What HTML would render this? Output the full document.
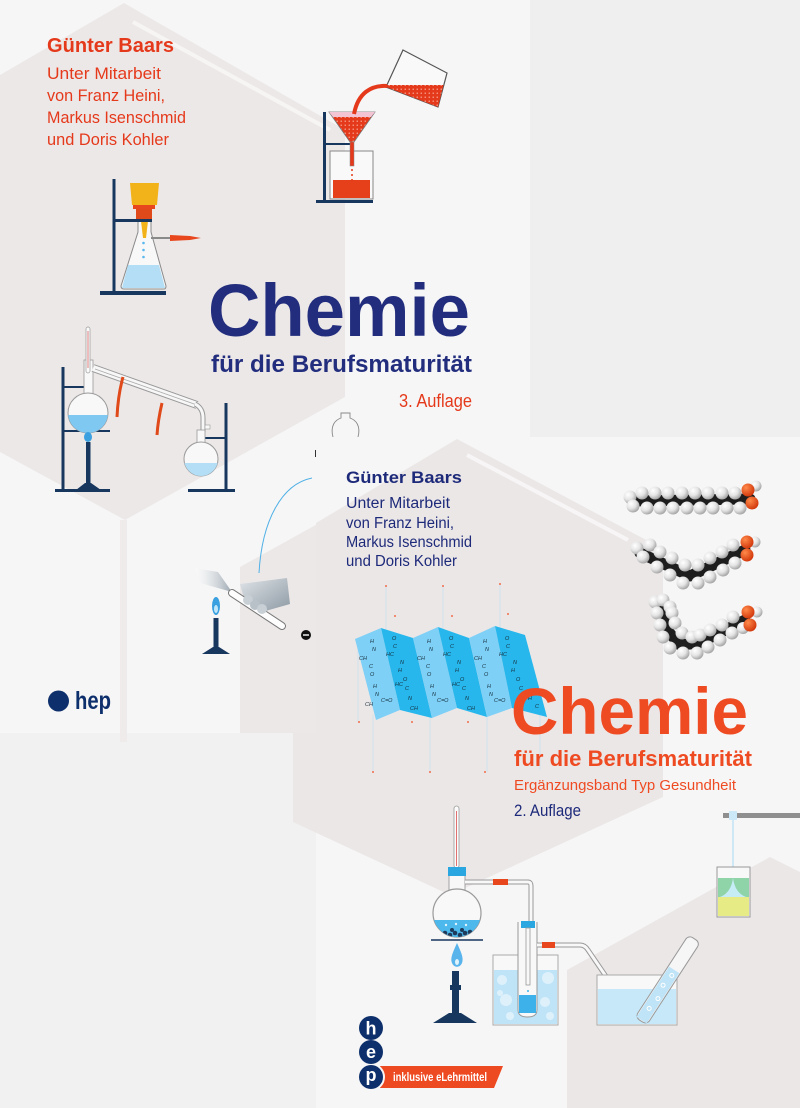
<!DOCTYPE html>
<html><head><meta charset="utf-8">
<style>
html,body{margin:0;padding:0;width:800px;height:1108px;overflow:hidden;background:#f1f1f1;}
svg{display:block;}
text{font-family:"Liberation Sans",sans-serif;}
</style></head>
<body>
<svg width="800" height="1108" viewBox="0 0 800 1108" xmlns="http://www.w3.org/2000/svg">
<defs>
<radialGradient id="sph" cx="0.35" cy="0.32" r="0.7">
<stop offset="0" stop-color="#ffffff"/><stop offset="0.55" stop-color="#e4e4e4"/><stop offset="1" stop-color="#a5a5a5"/>
</radialGradient>
<radialGradient id="oxy" cx="0.35" cy="0.32" r="0.7">
<stop offset="0" stop-color="#ff8a4a"/><stop offset="1" stop-color="#d2380c"/>
</radialGradient>
<pattern id="dots" width="4" height="4" patternUnits="userSpaceOnUse">
<rect width="4" height="4" fill="#e5391b"/><circle cx="1.2" cy="1.2" r="0.7" fill="#f8b4a2"/>
</pattern>
<linearGradient id="hand" x1="0" y1="0" x2="1" y2="1">
<stop offset="0" stop-color="#dfe4e8"/><stop offset="1" stop-color="#8d99a3"/>
</linearGradient>
<linearGradient id="paper" x1="0" y1="0" x2="1" y2="0">
<stop offset="0" stop-color="#ffffff" stop-opacity="0.3"/><stop offset="1" stop-color="#9aa6b0"/>
</linearGradient>
<clipPath id="fl1"><circle cx="88" cy="413" r="20"/></clipPath>
<clipPath id="fl2"><circle cx="201" cy="459" r="17"/></clipPath>
<clipPath id="fl3"><circle cx="457" cy="913" r="24"/></clipPath>
</defs>

<!-- background -->
<rect x="0" y="0" width="800" height="1108" fill="#f1f1f1"/>
<rect x="530" y="0" width="270" height="437" fill="#efefef"/>

<!-- cover 1 -->
<rect x="0" y="0" width="530" height="733" fill="#f6f6f6"/>
<polygon points="0,75 124,3 345,130 345,397 125,520 0,452" fill="#ede8e8"/>
<line x1="133" y1="22" x2="330" y2="130" stroke="#f7f4f4" stroke-width="4"/>
<polygon points="240,567 330,517 330,733 240,733" fill="#ede8e8"/>
<rect x="120" y="520" width="7" height="222" fill="#efebeb"/>

<!-- cover1 text -->
<text x="47" y="52" font-size="20" font-weight="bold" fill="#e5391b" textLength="127" lengthAdjust="spacingAndGlyphs">Günter Baars</text>
<text x="47" y="79" font-size="17" fill="#e5391b" textLength="114" lengthAdjust="spacingAndGlyphs">Unter Mitarbeit</text>
<text x="47" y="101" font-size="17" fill="#e5391b" textLength="118" lengthAdjust="spacingAndGlyphs">von Franz Heini,</text>
<text x="47" y="123" font-size="17" fill="#e5391b" textLength="139" lengthAdjust="spacingAndGlyphs">Markus Isenschmid</text>
<text x="47" y="145" font-size="17" fill="#e5391b" textLength="122" lengthAdjust="spacingAndGlyphs">und Doris Kohler</text>

<text x="208" y="336" font-size="74" font-weight="bold" fill="#222e7d" textLength="262" lengthAdjust="spacingAndGlyphs">Chemie</text>
<text x="211" y="372" font-size="24" font-weight="bold" fill="#222e7d" textLength="261" lengthAdjust="spacingAndGlyphs">für die Berufsmaturität</text>
<text x="399" y="407" font-size="18" fill="#e5391b" textLength="73" lengthAdjust="spacingAndGlyphs">3. Auflage</text>

<!-- Büchner filtration -->
<g>
<rect x="112.5" y="179" width="3" height="114" fill="#17375e"/>
<rect x="100" y="291" width="66" height="4" fill="#17375e"/>
<path d="M138,212 L138,232 L121,286 Q121,289 124,289 L164,289 Q166,289 166,286 L151,232 L151,212" fill="#f8f8f8" stroke="#8a8a8a" stroke-width="1"/>
<polygon points="128,265 159,265 165,288 122,288" fill="#b3def5"/>
<polygon points="130,183 159,183 157,205 132,205" fill="#f2b21a"/>
<rect x="133" y="205" width="22" height="4" fill="#e8461d"/>
<rect x="136" y="209" width="16" height="12" fill="#e04a1a"/>
<polygon points="141,221 148,221 146,238 143,238" fill="#f2b21a"/>
<rect x="114" y="219" width="38" height="3" fill="#17375e"/>
<line x1="151" y1="238" x2="172" y2="238" stroke="#8a8a8a" stroke-width="2"/>
<polygon points="170,235 190,236 201,238 190,240 170,241" fill="#e8461d"/>
<circle cx="143.5" cy="243" r="1.3" fill="#5ab8ee"/>
<circle cx="143.5" cy="250" r="1.3" fill="#5ab8ee"/>
<circle cx="143.5" cy="257" r="1.3" fill="#5ab8ee"/>
</g>

<!-- pouring -->
<g>
<rect x="323" y="112" width="3" height="90" fill="#17375e"/>
<rect x="316" y="200" width="57" height="3" fill="#17375e"/>
<rect x="330" y="151" width="43" height="48" fill="#f9f9f9" stroke="#888" stroke-width="1"/>
<rect x="333" y="180" width="37" height="18" fill="#e5401a"/>
<rect x="324" y="143" width="28" height="2" fill="#17375e"/>
<polygon points="329,112 375,112 354,142 350,142" fill="url(#dots)" stroke="#777" stroke-width="0.8"/>
<polygon points="329,112 375,112 371,117 333,117" fill="#f3c4d4"/>
<rect x="350" y="142" width="4" height="24" fill="#e5391b" stroke="#888" stroke-width="0.5"/>
<circle cx="352" cy="170" r="1" fill="#e5391b"/>
<circle cx="352" cy="175" r="1" fill="#e5391b"/>
<circle cx="352" cy="180" r="1" fill="#e5391b"/>
<polygon points="403,50 447,73 438,107 386,87" fill="#f9f9f9" stroke="#555" stroke-width="1.2"/>
<polygon points="387,85 443.5,85 438,107 386,87" fill="url(#dots)"/>
<path d="M387,86 C371,85 358,93 354,114" stroke="#e5391b" stroke-width="4" fill="none"/>
</g>

<!-- distillation -->
<g>
<rect x="61.5" y="367" width="3" height="123" fill="#17375e"/>
<rect x="55" y="489" width="55" height="3" fill="#17375e"/>
<rect x="63" y="430" width="47" height="2" fill="#17375e"/>
<rect x="63" y="386" width="25" height="2" fill="#17375e"/>
<rect x="84" y="360" width="9" height="36" fill="#f8f8f8" stroke="#999" stroke-width="0.8"/>
<circle cx="88" cy="413" r="20" fill="#f8f8f8" stroke="#999" stroke-width="1"/>
<rect x="66" y="415" width="45" height="20" fill="#7ec8f2" clip-path="url(#fl1)"/>
<rect x="86" y="327" width="4" height="46" rx="2" fill="#fafafa" stroke="#999" stroke-width="0.7"/>
<line x1="88" y1="331" x2="88" y2="368" stroke="#e08080" stroke-width="1"/>
<ellipse cx="88" cy="437" rx="4" ry="5" fill="#3aa0e0"/>
<rect x="86" y="442" width="4.5" height="43" fill="#17375e"/>
<polygon points="76,490 101,490 91,483 85,483" fill="#17375e"/>
<path d="M93,368 L197,405" stroke="#999" stroke-width="8" fill="none"/>
<path d="M93,368 L197,405" stroke="#f7f7f7" stroke-width="6" fill="none"/>
<path d="M95,369 L197,405" stroke="#aaa" stroke-width="0.8" fill="none"/>
<path d="M195,404 Q203,408 203,418 L203,432" stroke="#999" stroke-width="5" fill="none"/>
<path d="M195,404 Q203,408 203,418 L203,432" stroke="#f7f7f7" stroke-width="3" fill="none"/>
<path d="M123,377 Q118,395 117,417" stroke="#e04a1a" stroke-width="3" fill="none"/>
<path d="M162,403 Q158,420 157,435" stroke="#e04a1a" stroke-width="3" fill="none"/>
<rect x="224.5" y="403" width="3" height="87" fill="#17375e"/>
<rect x="188" y="489" width="47" height="3" fill="#17375e"/>
<rect x="201" y="437" width="25" height="2" fill="#17375e"/>
<rect x="197" y="430" width="8" height="13" fill="#f8f8f8" stroke="#999" stroke-width="0.8"/>
<rect x="205" y="425" width="5" height="4" fill="#f8f8f8" stroke="#999" stroke-width="0.6"/>
<circle cx="201" cy="459" r="17" fill="#f8f8f8" stroke="#999" stroke-width="1"/>
<rect x="183" y="463" width="36" height="15" fill="#b3def5" clip-path="url(#fl2)"/>
</g>

<!-- burner + test tube -->
<g>
<path d="M312,478 C282,484 262,520 259,573" stroke="#4fb0e6" stroke-width="1" fill="none"/>
<polygon points="195,568 218,572 232,592 200,583" fill="url(#paper)"/>
<ellipse cx="216" cy="606" rx="4" ry="9" fill="#3aa0e0"/>
<ellipse cx="216" cy="609" rx="2" ry="4" fill="#bfe6fb"/>
<rect x="213.5" y="618" width="5" height="32" fill="#17375e"/>
<polygon points="202,654 230,654 219,647 213,647" fill="#17375e"/>
<polygon points="240,584 287,578 290,604 262,612 246,606" fill="url(#hand)"/>
<line x1="232" y1="593" x2="282" y2="626" stroke="#777" stroke-width="8" stroke-linecap="round"/>
<line x1="232" y1="593" x2="282" y2="626" stroke="#fdfdfd" stroke-width="6" stroke-linecap="round"/>
<circle cx="248" cy="600" r="5" fill="#c8d0d6"/>
<circle cx="255" cy="605" r="5" fill="#b8c1c8"/>
<circle cx="262" cy="609" r="5" fill="#c8d0d6"/>
<circle cx="306" cy="635" r="5" fill="#111"/>
<rect x="303" y="634.3" width="6" height="1.4" fill="#fff"/>
<path d="M333,437 C330,426 335,420 341,418 L341,413 L350,413 L350,418 C356,420 361,426 358,437" fill="none" stroke="#888" stroke-width="0.9"/>
<rect x="315" y="450" width="1.5" height="7" fill="#333"/>
</g>

<!-- hep top -->
<circle cx="58.5" cy="701" r="10.5" fill="#0d2f6b"/>
<text x="75" y="709" font-size="25" font-weight="bold" fill="#0d2f6b" textLength="36" lengthAdjust="spacingAndGlyphs">hep</text>

<!-- cover 2 -->
<rect x="316" y="437" width="484" height="671" fill="#f6f6f6"/>
<polygon points="316,523 457,439 663,549 663,797 450,895 293,822 293,733 316,733" fill="#ece7e7"/>
<line x1="467" y1="455" x2="628" y2="540" stroke="#f7f5f5" stroke-width="4"/>
<polygon points="567,970 770,857 800,872 800,1108 567,1108" fill="#ece7e7"/>

<text x="346" y="483" font-size="16.5" font-weight="bold" fill="#1d2a7a" textLength="116" lengthAdjust="spacingAndGlyphs">Günter Baars</text>
<text x="346" y="508" font-size="15.5" fill="#1d2a7a" textLength="104" lengthAdjust="spacingAndGlyphs">Unter Mitarbeit</text>
<text x="346" y="528" font-size="15.5" fill="#1d2a7a" textLength="108" lengthAdjust="spacingAndGlyphs">von Franz Heini,</text>
<text x="346" y="547" font-size="15.5" fill="#1d2a7a" textLength="126" lengthAdjust="spacingAndGlyphs">Markus Isenschmid</text>
<text x="346" y="566" font-size="15.5" fill="#1d2a7a" textLength="111" lengthAdjust="spacingAndGlyphs">und Doris Kohler</text>

<!-- beta sheet -->
<g>
<g stroke="#cfe3ee" stroke-width="1">
<line x1="386" y1="586" x2="386" y2="630"/><line x1="443" y1="586" x2="443" y2="630"/><line x1="500" y1="584" x2="500" y2="628"/>
<line x1="373" y1="715" x2="373" y2="772"/><line x1="430" y1="715" x2="430" y2="772"/><line x1="487" y1="715" x2="487" y2="772"/>
<line x1="540" y1="715" x2="540" y2="770"/><line x1="358" y1="640" x2="358" y2="722"/>
</g>
<g fill="#f08a70">
<rect x="385" y="585" width="2" height="2"/><rect x="442" y="585" width="2" height="2"/><rect x="499" y="583" width="2" height="2"/>
<rect x="394" y="615" width="2" height="2"/><rect x="451" y="615" width="2" height="2"/><rect x="507" y="613" width="2" height="2"/>
<rect x="358" y="721" width="2" height="2"/><rect x="411" y="721" width="2" height="2"/><rect x="467" y="721" width="2" height="2"/>
<rect x="372" y="771" width="2" height="2"/><rect x="429" y="771" width="2" height="2"/><rect x="484" y="771" width="2" height="2"/>
</g>
<polygon points="355,639 381,628 400,710 376,720" fill="#7fd0f6"/>
<polygon points="381,628 413,638 432,718 400,710" fill="#27b7ec"/>
<polygon points="413,638 438,627 457,708 432,718" fill="#7fd0f6"/>
<polygon points="438,627 469,638 487,717 457,708" fill="#27b7ec"/>
<polygon points="469,638 495,626 512,708 487,717" fill="#7fd0f6"/>
<polygon points="495,626 525,635 547,717 512,708" fill="#27b7ec"/>
<g font-family="Liberation Serif,serif" font-style="italic" font-size="5.5" fill="#16303f">
<text x="370" y="643">H</text><text x="372" y="651">N</text><text x="359" y="660">CH</text><text x="369" y="668">C</text><text x="370" y="676">O</text><text x="373" y="688">H</text><text x="375" y="696">N</text><text x="365" y="706">CH</text><text x="381" y="702">C=O</text>
<text x="392" y="640">O</text><text x="393" y="648">C</text><text x="386" y="656">HC</text><text x="400" y="664">N</text><text x="398" y="672">H</text><text x="403" y="681">O</text><text x="405" y="690">C</text><text x="395" y="686">HC</text><text x="408" y="700">N</text><text x="410" y="710">CH</text>
<text x="427" y="643">H</text><text x="429" y="651">N</text><text x="417" y="660">CH</text><text x="426" y="668">C</text><text x="427" y="676">O</text><text x="430" y="688">H</text><text x="432" y="696">N</text><text x="437" y="702">C=O</text>
<text x="449" y="640">O</text><text x="450" y="648">C</text><text x="443" y="656">HC</text><text x="457" y="664">N</text><text x="455" y="672">H</text><text x="460" y="681">O</text><text x="462" y="690">C</text><text x="452" y="686">HC</text><text x="465" y="700">N</text><text x="467" y="710">CH</text>
<text x="483" y="643">H</text><text x="485" y="651">N</text><text x="474" y="660">CH</text><text x="482" y="668">C</text><text x="484" y="676">O</text><text x="487" y="688">H</text><text x="489" y="696">N</text><text x="494" y="702">C=O</text>
<text x="505" y="640">O</text><text x="506" y="648">C</text><text x="499" y="656">HC</text><text x="513" y="664">N</text><text x="511" y="672">H</text><text x="516" y="681">O</text><text x="519" y="690">C</text><text x="528" y="700">H</text><text x="535" y="708">C</text>
</g>
</g>

<!-- molecules -->
<g>
<line x1="632" y1="501" x2="750" y2="499" stroke="#1e1e1e" stroke-width="11" stroke-linecap="round"/>
<g fill="url(#sph)">
<circle cx="630" cy="497" r="6.5"/><circle cx="633" cy="506" r="6.5"/>
<circle cx="647" cy="508" r="6.5"/><circle cx="660" cy="508" r="6.5"/><circle cx="673" cy="508" r="6.5"/><circle cx="687" cy="508" r="6.5"/><circle cx="700" cy="508" r="6.5"/><circle cx="713" cy="508" r="6.5"/><circle cx="727" cy="508" r="6.5"/><circle cx="740" cy="508" r="6.5"/>
<circle cx="642" cy="493" r="6.5"/><circle cx="655" cy="493" r="6.5"/><circle cx="668" cy="493" r="6.5"/><circle cx="682" cy="493" r="6.5"/><circle cx="695" cy="493" r="6.5"/><circle cx="708" cy="493" r="6.5"/><circle cx="722" cy="493" r="6.5"/><circle cx="735" cy="493" r="6.5"/>
<circle cx="756" cy="486" r="5.5"/>
</g>
<circle cx="748" cy="490" r="6.5" fill="url(#oxy)"/><circle cx="752" cy="503" r="6.5" fill="url(#oxy)"/>

<polyline points="640,553 690,576 745,550" stroke="#1e1e1e" stroke-width="11" fill="none" stroke-linejoin="round" stroke-linecap="round"/>
<g fill="url(#sph)">
<circle cx="637" cy="548" r="6.5"/><circle cx="643" cy="557" r="6.5"/><circle cx="650" cy="545" r="6.5"/><circle cx="657" cy="567" r="6.5"/><circle cx="660" cy="552" r="6.5"/><circle cx="670" cy="575" r="6.5"/><circle cx="672" cy="558" r="6.5"/><circle cx="683" cy="583" r="6.5"/><circle cx="685" cy="565" r="6.5"/><circle cx="698" cy="583" r="6.5"/><circle cx="698" cy="565" r="6.5"/><circle cx="710" cy="577" r="6.5"/><circle cx="710" cy="558" r="6.5"/><circle cx="723" cy="570" r="6.5"/><circle cx="722" cy="552" r="6.5"/><circle cx="735" cy="563" r="6.5"/><circle cx="733" cy="545" r="6.5"/>
<circle cx="755" cy="542" r="5.5"/>
</g>
<circle cx="747" cy="542" r="6.5" fill="url(#oxy)"/><circle cx="747" cy="555" r="6.5" fill="url(#oxy)"/>

<polyline points="660,607 667,630 680,645 700,643 745,620" stroke="#1e1e1e" stroke-width="11" fill="none" stroke-linejoin="round" stroke-linecap="round"/>
<g fill="url(#sph)">
<circle cx="655" cy="602" r="6.5"/><circle cx="663" cy="600" r="6.5"/><circle cx="670" cy="607" r="6.5"/><circle cx="657" cy="613" r="6.5"/><circle cx="672" cy="613" r="6.5"/><circle cx="660" cy="625" r="6.5"/><circle cx="675" cy="623" r="6.5"/><circle cx="663" cy="637" r="6.5"/><circle cx="682" cy="633" r="6.5"/><circle cx="670" cy="648" r="6.5"/><circle cx="692" cy="637" r="6.5"/><circle cx="683" cy="653" r="6.5"/><circle cx="700" cy="635" r="6.5"/><circle cx="697" cy="653" r="6.5"/><circle cx="710" cy="630" r="6.5"/><circle cx="708" cy="647" r="6.5"/><circle cx="722" cy="625" r="6.5"/><circle cx="720" cy="640" r="6.5"/><circle cx="733" cy="617" r="6.5"/><circle cx="732" cy="633" r="6.5"/><circle cx="743" cy="628" r="6"/>
<circle cx="757" cy="612" r="5.5"/>
</g>
<circle cx="748" cy="612" r="6.5" fill="url(#oxy)"/><circle cx="750" cy="625" r="6.5" fill="url(#oxy)"/>
</g>

<!-- cover 2 title -->
<text x="511" y="734" font-size="66" font-weight="bold" fill="#ef4b23" textLength="237" lengthAdjust="spacingAndGlyphs">Chemie</text>
<text x="514" y="766" font-size="22" font-weight="bold" fill="#ef4b23" textLength="238" lengthAdjust="spacingAndGlyphs">für die Berufsmaturität</text>
<text x="514" y="790" font-size="15" fill="#ef4b23" textLength="222" lengthAdjust="spacingAndGlyphs">Ergänzungsband Typ Gesundheit</text>
<text x="514" y="816" font-size="16.5" fill="#1d2a7a" textLength="67" lengthAdjust="spacingAndGlyphs">2. Auflage</text>

<!-- bottom apparatus -->
<g>
<rect x="454" y="806" width="5" height="62" rx="2.5" fill="#fbfbfb" stroke="#999" stroke-width="0.8"/>
<line x1="456.5" y1="811" x2="456.5" y2="866" stroke="#e07070" stroke-width="1"/>
<rect x="449" y="875" width="16" height="17" fill="#f8f8f8" stroke="#999" stroke-width="0.9"/>
<circle cx="457" cy="913" r="24" fill="#f8f8f8" stroke="#999" stroke-width="1.2"/>
<g clip-path="url(#fl3)">
<rect x="430" y="920" width="55" height="20" fill="#4db8ec"/>
<circle cx="445" cy="933" r="2.3" fill="#1d3a5a"/><circle cx="450" cy="935" r="2.3" fill="#1d3a5a"/><circle cx="455" cy="933" r="2.3" fill="#1d3a5a"/><circle cx="460" cy="935" r="2.3" fill="#1d3a5a"/><circle cx="465" cy="933" r="2.3" fill="#1d3a5a"/><circle cx="470" cy="932" r="2.3" fill="#1d3a5a"/><circle cx="452" cy="930" r="2" fill="#1d3a5a"/><circle cx="462" cy="930" r="2" fill="#1d3a5a"/>
<circle cx="446" cy="925" r="1.2" fill="#dff3fc"/><circle cx="456" cy="924" r="1.2" fill="#dff3fc"/><circle cx="466" cy="925" r="1.2" fill="#dff3fc"/>
</g>
<rect x="448" y="867" width="18" height="9" fill="#2aa7e0"/>
<line x1="431" y1="940" x2="483" y2="940" stroke="#17375e" stroke-width="1.5"/>
<path d="M457,943 C453,952 450,958 452,963 C454,968 460,968 462,963 C464,958 461,952 457,943 Z" fill="#5ab4ec"/>
<ellipse cx="457" cy="962" rx="2" ry="3" fill="#dff3fc"/>
<rect x="452" y="971" width="7" height="42" fill="#17375e"/>
<rect x="450" y="985" width="11" height="5" fill="#17375e"/>
<polygon points="433,1023 477,1023 461,1013 449,1013" fill="#17375e"/>

<path d="M465,882 L528,882 Q531,882 531,886 L531,925" stroke="#999" stroke-width="5" fill="none"/>
<path d="M465,882 L528,882 Q531,882 531,886 L531,925" stroke="#f8f8f8" stroke-width="3" fill="none"/>
<rect x="493" y="879" width="15" height="6" fill="#e8461d"/>

<rect x="493" y="955" width="65" height="70" fill="#f8f8f8" stroke="#aaa" stroke-width="1"/>
<rect x="494" y="970" width="63" height="54" fill="#bfe4f7"/>
<g fill="#e6f5fd" opacity="0.8">
<circle cx="502" cy="980" r="5"/><circle cx="548" cy="978" r="6"/><circle cx="506" cy="1000" r="6"/><circle cx="545" cy="1002" r="5"/><circle cx="510" cy="1016" r="4"/><circle cx="550" cy="1016" r="4"/><circle cx="500" cy="993" r="3"/>
</g>
<path d="M518,922 L518,1010 Q518,1017 527.5,1017 Q537,1017 537,1010 L537,922" fill="#f8f8f8" stroke="#999" stroke-width="1"/>
<rect x="519" y="995" width="17" height="18" fill="#3db2ea"/>
<rect x="521" y="921" width="14" height="7" fill="#2aa7e0"/>
<rect x="526" y="928" width="4" height="57" fill="#f8f8f8" stroke="#999" stroke-width="0.8"/>
<circle cx="528" cy="991" r="1" fill="#3db2ea"/>

<path d="M537,945 L580,945 Q585,945 588,950 L633,1016 Q638,1022 643,1016" stroke="#999" stroke-width="5" fill="none"/>
<path d="M537,945 L580,945 Q585,945 588,950 L633,1016 Q638,1022 643,1016" stroke="#f8f8f8" stroke-width="3" fill="none"/>
<rect x="542" y="942" width="13" height="6" fill="#e8461d"/>

<rect x="597" y="975" width="80" height="50" fill="#f8f8f8" stroke="#aaa" stroke-width="1"/>
<rect x="598" y="989" width="78" height="35" fill="#c7e8f8"/>
<g transform="translate(641,1021) rotate(-57)">
<rect x="0" y="-7" width="98" height="14" rx="5" fill="#f6f6f6" stroke="#999" stroke-width="1"/>
<rect x="1" y="-6" width="60" height="12" fill="#bfe4f7"/>
<circle cx="15" cy="0" r="2" fill="none" stroke="#fff"/><circle cx="28" cy="2" r="2" fill="none" stroke="#fff"/><circle cx="42" cy="-1" r="2" fill="none" stroke="#fff"/><circle cx="55" cy="1" r="2" fill="none" stroke="#fff"/>
</g>

<rect x="723" y="813" width="77" height="5" fill="#8f8f8f"/>
<rect x="729" y="811" width="8" height="9" fill="#cbe9f8"/>
<line x1="733" y1="820" x2="733" y2="880" stroke="#a8daf5" stroke-width="1"/>
<rect x="717" y="867" width="33" height="50" fill="#f8f8f8" stroke="#999" stroke-width="1"/>
<rect x="718" y="878" width="31" height="19" fill="#8fd3a8"/>
<rect x="718" y="897" width="31" height="19" fill="#e7eb86"/>
<path d="M733,878 Q731,893 720,897 L746,897 Q735,893 733,878 Z" fill="#c6ecf6"/>
</g>

<!-- hep bottom logo -->
<polygon points="380,1066 503,1066 494,1088 380,1088" fill="#ee4a22"/>
<circle cx="371" cy="1028" r="13" fill="#f6f6f6"/>
<circle cx="371" cy="1052" r="13" fill="#f6f6f6"/>
<circle cx="371" cy="1077" r="14" fill="#f6f6f6"/>
<circle cx="371" cy="1028" r="12" fill="#0d2f6b"/>
<circle cx="371" cy="1052" r="12" fill="#0d2f6b"/>
<circle cx="371" cy="1077" r="12" fill="#0d2f6b"/>
<text x="371" y="1034.5" font-size="18" font-weight="bold" fill="#fff" text-anchor="middle">h</text>
<text x="371" y="1058" font-size="18" font-weight="bold" fill="#fff" text-anchor="middle">e</text>
<text x="371" y="1081" font-size="18" font-weight="bold" fill="#fff" text-anchor="middle">p</text>
<text x="393" y="1081" font-size="11.5" font-weight="bold" fill="#fff" textLength="94" lengthAdjust="spacingAndGlyphs">inklusive eLehrmittel</text>
</svg>
</body></html>
